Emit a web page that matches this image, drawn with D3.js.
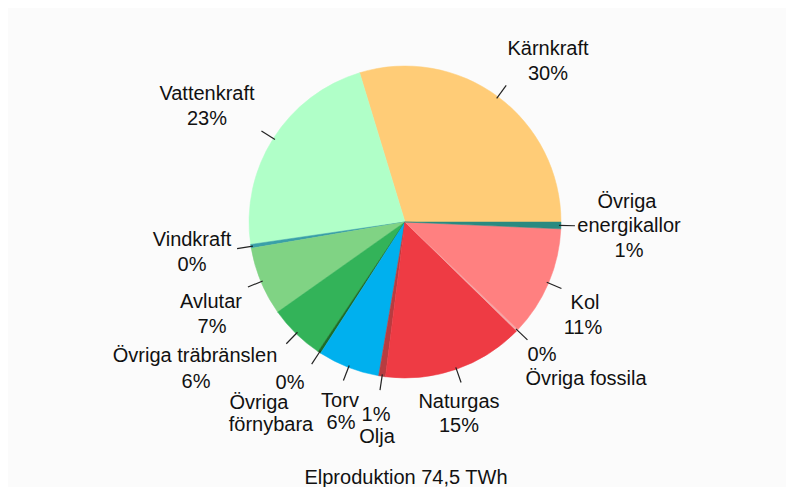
<!DOCTYPE html>
<html>
<head>
<meta charset="utf-8">
<script src="https://cdn.jsdelivr.net/npm/d3@7"></script>
<style>
body { margin: 0; background: #fff; }
svg text { font-family: "Liberation Sans", Arial, sans-serif; font-size: 20px; fill: #111; }
</style>
</head>
<body>
<div id="chart"></div>
<script>
// data (share of production, %)
var categories = ["Kärnkraft", "Vattenkraft", "Vindkraft", "Avlutar", "Övriga träbränslen",
  "Övriga förnybara", "Torv", "Olja", "Naturgas", "Övriga fossila", "Kol", "Övriga energikallor"];
var values = [29.7, 22.6, 0.4, 7.1, 5.8, 0.3, 6.4, 0.7, 14.7, 0.2, 11.4, 0.7];
var colors = ["#ffcc77", "#b0ffc8", "#3aa0a8", "#80d384", "#33b359", "#1e6e28",
  "#00b0ee", "#b83c40", "#ee3b44", "#f4a8a8", "#ff8080", "#2a8a80"];
var title = "Elproduktion 74,5 TWh";

// label lines per slice ("name" / "pct" are filled from the data)
var labelLines = [
  ["name", "pct"], ["name", "pct"], ["name", "pct"], ["name", "pct"], ["name", "pct"],
  ["pct", "Övriga", "förnybara"], ["name", "pct"], ["pct", "name"], ["name", "pct"],
  ["pct", "name"], ["name", "pct"], ["Övriga", "energikallor", "pct"]
];
// x, baseline for every line
var labelXY = [
  [[548, 55], [548, 80]],
  [[207, 100], [207, 125]],
  [[192, 246], [192, 271]],
  [[211, 308], [212, 333]],
  [[195, 362], [196, 388]],
  [[290, 389], [259, 409], [271, 431]],
  [[340, 407], [341, 429]],
  [[376, 421], [377, 443]],
  [[459, 408], [459, 432]],
  [[542, 361], [586, 385]],
  [[585, 309], [583, 334]],
  [[627, 208], [629, 232], [629, 257]]
];

var width = 786, height = 487;
var cx = 405, cy = 222, r = 156;

var svg = d3.select("#chart")
  .append("svg")
  .attr("width", width)
  .attr("height", height);

// faint panel behind the chart
svg.append("rect")
  .attr("x", 8).attr("y", 8)
  .attr("width", width - 8).attr("height", height - 8)
  .attr("fill", "#fbfbfb");

var g = svg.append("g")
  .attr("transform", "translate(" + cx + "," + cy + ")");

// pie goes counterclockwise starting at 3 o'clock
var pie = d3.pie()
  .sort(null)
  .startAngle(Math.PI / 2)
  .endAngle(Math.PI / 2 - 2 * Math.PI)
  .value(function(d) { return d; });

var arcs = pie(values);
var arc = d3.arc().innerRadius(0).outerRadius(r);

g.selectAll("path.slice")
  .data(arcs)
  .enter()
  .append("path")
  .attr("class", "slice")
  .attr("d", arc)
  .attr("fill", function(d, i) { return colors[i]; })
  .attr("stroke", function(d, i) { return colors[i]; })
  .attr("stroke-width", 0.5);

// tick marks from rim outwards
var tickIn = d3.arc().innerRadius(r - 2).outerRadius(r - 2);
var tickOut = d3.arc().innerRadius(r + 14).outerRadius(r + 14);
g.selectAll("line.tick")
  .data(arcs)
  .enter()
  .append("line")
  .attr("class", "tick")
  .attr("x1", function(d) { return tickIn.centroid(d)[0]; })
  .attr("y1", function(d) { return tickIn.centroid(d)[1]; })
  .attr("x2", function(d) { return tickOut.centroid(d)[0]; })
  .attr("y2", function(d) { return tickOut.centroid(d)[1]; })
  .attr("stroke", "#222")
  .attr("stroke-width", 1.2);

var fmt = function(v) { return Math.round(v) + "%"; };

// labels
svg.selectAll("text.lbl")
  .data(arcs)
  .enter()
  .append("text")
  .attr("class", "lbl")
  .attr("text-anchor", "middle")
  .each(function(d, i) {
    var t = d3.select(this);
    labelLines[i].forEach(function(s, k) {
      var txt = s == "name" ? categories[i] : s == "pct" ? fmt(values[i]) : s;
      t.append("tspan")
        .attr("x", labelXY[i][k][0])
        .attr("y", labelXY[i][k][1])
        .text(txt);
    });
  });

svg.append("text")
  .attr("text-anchor", "middle")
  .attr("x", 406)
  .attr("y", 484)
  .text(title);
</script>
</body>
</html>
